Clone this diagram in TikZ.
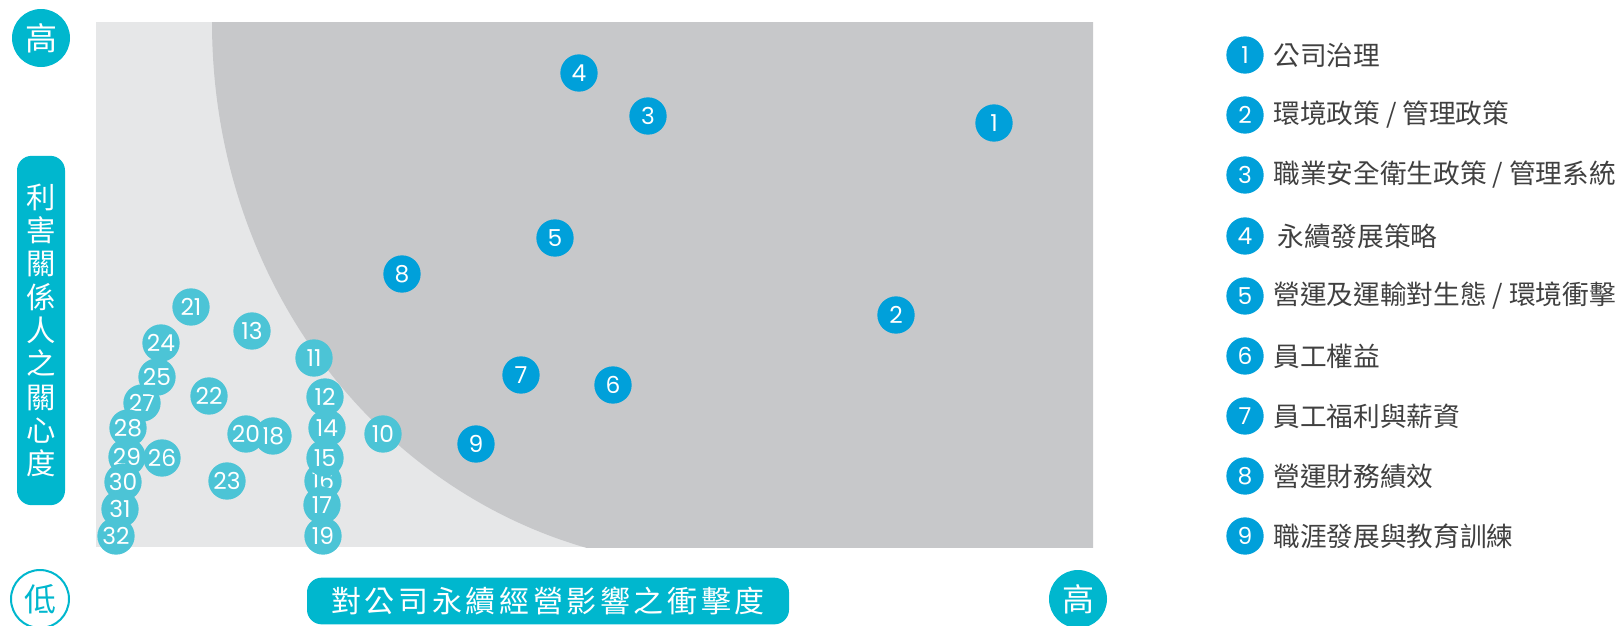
\documentclass[tikz,border=0pt]{standalone}
\usepackage{fontspec}
\setmainfont{Poppins}
\newfontfamily\cjk{Noto Sans CJK TC}

\definecolor{tagCyan}{HTML}{00B7CE}
\definecolor{dotBlue}{HTML}{00A0DA}
\definecolor{dotCyan}{HTML}{4CC4D6}
\definecolor{plotLight}{HTML}{E6E7E8}
\definecolor{plotDark}{HTML}{C7C8CA}
\definecolor{keyText}{HTML}{404040}

\tikzset{every picture/.style={line width=0.75pt}}
\tikzset{
  topic/.style={circle, inner sep=0pt, minimum size=28pt, text=white, font=\fontsize{17.5}{17.5}\selectfont},
  keydot/.style={topic, fill=dotBlue},
  minordot/.style={topic, fill=dotCyan},
  keylabel/.style={anchor=west, inner sep=0pt, text=keyText, font=\cjk\fontsize{20}{20}\selectfont},
  levelmark/.style={circle, inner sep=0pt, minimum size=43.5pt, fill=tagCyan, text=white, font=\cjk\fontsize{24}{24}\selectfont},
}

\begin{document}
\begin{tikzpicture}[x=0.75pt,y=0.75pt,yscale=-1,xscale=1]
\useasboundingbox (0,0) rectangle (1623,625);

%Shape: Rectangle 
\fill [plotLight] (96,22) rectangle (1093,547) ;
%Shape: Curved region 
\begin{scope}
\clip (96,22) rectangle (1093,547) ;
\fill [plotDark] (212,22) .. controls (212,300) and (400,520) .. (640,560) -- (1093,560) -- (1093,22) -- cycle ;
\end{scope}

%Shape: Rounded Rectangle 
\node [fill=tagCyan, rounded corners=11pt, minimum width=36pt, minimum height=262pt, inner sep=0pt] (ytag) at (41,330.5) {};
% Text Node
\node [text=white, align=center, inner sep=0pt, font=\cjk\fontsize{22}{25}\selectfont] (ytext) at (ytag) {利\\害\\關\\係\\人\\之\\關\\心\\度};
%Shape: Rounded Rectangle 
\node [fill=tagCyan, rounded corners=11pt, minimum width=361.5pt, minimum height=35pt, inner sep=0pt] (xtag) at (548,601) {};
% Text Node
\node [text=white, inner sep=0pt, font=\cjk\fontsize{22.5}{22.5}\selectfont\addfontfeatures{LetterSpace=12}] (xtext) at (xtag) {對公司永續經營影響之衝擊度};

% Text Node
\node [levelmark] (yhigh) at (41,38) {高};
% Text Node
\node [levelmark, fill=white, draw=tagCyan, line width=1.5pt, text=tagCyan] (low) at (40,599) {低};
% Text Node
\node [levelmark] (xhigh) at (1078,599) {高};

% Text Node
\node [minordot] (d10) at (383,434) {10};
% Text Node
\node [minordot] (d11) at (314,358) {11};
% Text Node
\node [minordot] (d12) at (325,397) {12};
% Text Node
\node [minordot] (d13) at (252,331) {13};
% Text Node
\node [minordot] (d14) at (327,428) {14};
% Text Node
\node [minordot] (d16) at (323,481) {16};
% Text Node
\node [minordot] (d15) at (325,458) {15};
% Text Node
\node [minordot] (d17) at (322,505) {17};
% Text Node
\node [minordot] (d19) at (323,536) {19};
% Text Node
\node [minordot] (d18) at (273,436) {18};
% Text Node
\node [minordot] (d20) at (246,434) {20};
% Text Node
\node [minordot] (d21) at (191,307) {21};
% Text Node
\node [minordot] (d22) at (209,396) {22};
% Text Node
\node [minordot] (d23) at (227,481) {23};
% Text Node
\node [minordot] (d24) at (161,343) {24};
% Text Node
\node [minordot] (d27) at (142,403) {27};
% Text Node
\node [minordot] (d25) at (157,377) {25};
% Text Node
\node [minordot] (d28) at (128,428) {28};
% Text Node
\node [minordot] (d29) at (127,457) {29};
% Text Node
\node [minordot] (d30) at (123,482) {30};
% Text Node
\node [minordot] (d26) at (162,458) {26};
% Text Node
\node [minordot] (d31) at (120,509) {31};
% Text Node
\node [minordot] (d32) at (116,536) {32};

% Text Node
\node [keydot] (d1) at (994,123) {1};
% Text Node
\node [keydot] (d2) at (896,315) {2};
% Text Node
\node [keydot] (d3) at (648,116) {3};
% Text Node
\node [keydot] (d4) at (579,73) {4};
% Text Node
\node [keydot] (d5) at (555,238) {5};
% Text Node
\node [keydot] (d6) at (613,385) {6};
% Text Node
\node [keydot] (d7) at (521,375) {7};
% Text Node
\node [keydot] (d8) at (402,274) {8};
% Text Node
\node [keydot] (d9) at (476,444) {9};

% Text Node
\node [keydot] (k1) at (1245,55) {1};
\node [keylabel] (t1) at (1273,55) {公司治理};
% Text Node
\node [keydot] (k2) at (1245,115) {2};
\node [keylabel] (t2) at (1273,115) {環境政策 / 管理政策};
% Text Node
\node [keydot] (k3) at (1245,175) {3};
\node [keylabel] (t3) at (1273,175) {職業安全衛生政策 / 管理系統};
% Text Node
\node [keydot] (k4) at (1245,236) {4};
\node [keylabel] (t4) at (1277,236) {永續發展策略};
% Text Node
\node [keydot] (k5) at (1245,296) {5};
\node [keylabel] (t5) at (1273,296) {營運及運輸對生態 / 環境衝擊};
% Text Node
\node [keydot] (k6) at (1245,356) {6};
\node [keylabel] (t6) at (1273,356) {員工權益};
% Text Node
\node [keydot] (k7) at (1245,416) {7};
\node [keylabel] (t7) at (1273,416) {員工福利與薪資};
% Text Node
\node [keydot] (k8) at (1245,476) {8};
\node [keylabel] (t8) at (1273,476) {營運財務績效};
% Text Node
\node [keydot] (k9) at (1245,536) {9};
\node [keylabel] (t9) at (1273,536) {職涯發展與教育訓練};

\end{tikzpicture}
\end{document}
